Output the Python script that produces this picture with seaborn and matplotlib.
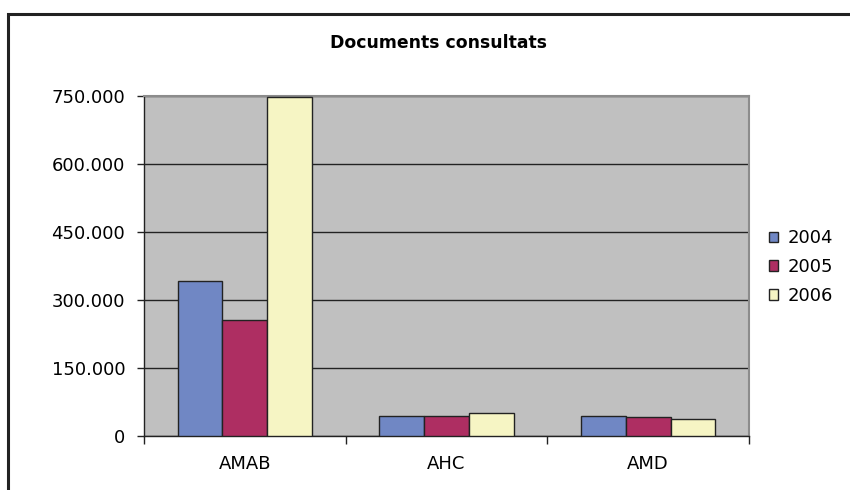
import matplotlib
matplotlib.use("Agg")
import matplotlib.pyplot as plt
import matplotlib.ticker as mticker
from matplotlib.patches import Patch, Rectangle
import seaborn as sns
import pandas as pd

categories = ["AMAB", "AHC", "AMD"]
years = ["2004", "2005", "2006"]
values_2004 = [343000, 44000, 44000]
values_2005 = [255000, 44000, 42700]
values_2006 = [748000, 49800, 37600]
yticks = [0, 150000, 300000, 450000, 600000, 750000]
colors = ["#7087C4", "#AE2E62", "#F6F5C4"]
title = "Documents consultats"

rows = []
for y, vals in zip(years, [values_2004, values_2005, values_2006]):
    for c, v in zip(categories, vals):
        rows.append({"cat": c, "year": y, "value": v})
df = pd.DataFrame(rows)

sns.set_theme(style="white")
plt.rcParams["font.family"] = ["DejaVu Sans"]
plt.rcParams["text.color"] = "black"
plt.rcParams["xtick.color"] = "black"
plt.rcParams["ytick.color"] = "black"

fig = plt.figure(figsize=(8.5, 4.9), dpi=100)
ax = fig.add_axes([144/850, 1-436/490, (749-144)/850, (436-96)/490])

sns.barplot(data=df, x="cat", y="value", hue="year", order=categories,
            hue_order=years, palette=colors, width=0.665, gap=0,
            edgecolor="#222222", linewidth=1.0, saturation=1, ax=ax,
            legend=False, zorder=3)

ax.set_facecolor("#C0C0C0")
ax.set_xlim(-0.5, 2.5)
ax.set_ylim(0, 750000)
ax.set_yticks(yticks)
ax.yaxis.set_major_formatter(mticker.FuncFormatter(
    lambda v, p: f"{int(v):,}".replace(",", ".")))
ax.grid(axis="y", color="#222222", linewidth=1.0, zorder=0)
ax.set_axisbelow(True)
ax.set_xlabel("")
ax.set_ylabel("")
ax.tick_params(axis="y", which="major", direction="out", length=5, width=1,
               color="#222222", labelcolor="black", labelsize=13, pad=8.5, left=True)
ax.tick_params(axis="x", which="major", length=0, labelsize=13, pad=14,
               labelcolor="black")
ax.xaxis.set_minor_locator(mticker.FixedLocator([-0.5, 0.5, 1.5, 2.5]))
ax.tick_params(axis="x", which="minor", direction="out", length=6, width=1,
               color="#222222", bottom=True)
for s in ["left", "bottom"]:
    ax.spines[s].set_color("#222222")
    ax.spines[s].set_linewidth(1.0)
for s in ["top", "right"]:
    ax.spines[s].set_color("#8C8C8C")
    ax.spines[s].set_linewidth(1.5)

fig.text(439/850, 1-43/490, title, ha="center", va="center",
         fontsize=12.4, fontweight="bold", color="black")

handles = [Patch(facecolor=c, edgecolor="#222222", linewidth=1.0) for c in colors]
leg = fig.legend(handles, years, loc="center left", bbox_to_anchor=(756/850, 1-267/490),
                 frameon=False, fontsize=13, handlelength=0.5, handleheight=0.5,
                 handletextpad=0.55, labelspacing=0.6, borderpad=0.2)
for t in leg.get_texts():
    t.set_color("black")

fig.add_artist(Rectangle((8/850, -0.1), 1.0, 1-14/490+0.1, transform=fig.transFigure,
                         fill=False, edgecolor="#222222", linewidth=2.2))

fig.savefig("out.png", dpi=100)
